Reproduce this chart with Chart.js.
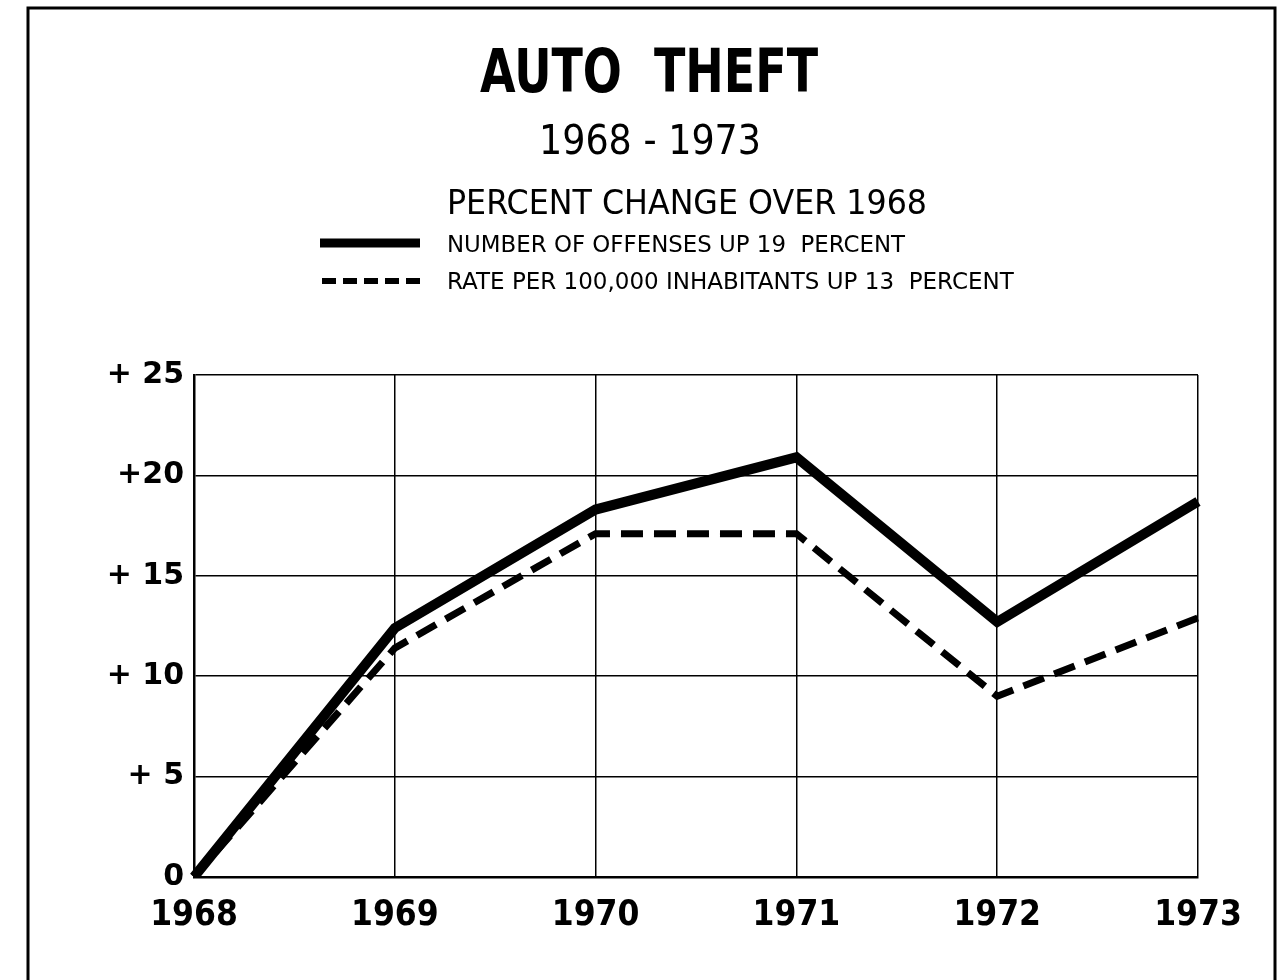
<!DOCTYPE html>
<html>
<head>
<meta charset="utf-8">
<script src="https://cdn.jsdelivr.net/npm/chart.js@4.4.1/dist/chart.umd.min.js"></script>
<style>
	html, body { margin: 0; padding: 0; background: #fff; }
	#wrap { width: 1280px; height: 980px; }
</style>
</head>
<body>
<div id="wrap"><canvas id="chart" width="1280" height="980"></canvas></div>
<script>

var years							 =	["1968", "1969", "1970", "1971", "1972", "1973"];
var offenses						 =	[0, 12.4, 18.3, 20.9, 12.7, 18.7];
var ratePer100k						 =	[0, 11.4, 17.1, 17.1, 9.0, 12.9];
var yTickLabels						 =	["0", "+ 5", "+ 10", "+ 15", "+20", "+ 25"];
var titleText						 =	"AUTO  THEFT";
var periodText						 =	"1968 - 1973";
var subtitleText					 =	"PERCENT CHANGE OVER 1968";
var offensesLabel					 =	"NUMBER OF OFFENSES UP 19  PERCENT";
var rateLabel						 =	"RATE PER 100,000 INHABITANTS UP 13  PERCENT";

/**
 * Draws the frame, the headings and the hand-made legend
 */
var headerPlugin					 =	{
	id								 :	"header",
	beforeDraw						 :	function (chart) {
		var ctx						 =	chart.ctx;
		ctx.save();
		ctx.fillStyle				 =	"#fff";
		ctx.fillRect(0, 0, chart.width, chart.height);
		ctx.strokeStyle				 =	"#000";
		ctx.lineWidth				 =	3;
		ctx.strokeRect(28, 8, 1247, 990);
		ctx.restore();
	},
	afterDraw						 :	function (chart) {
		var ctx						 =	chart.ctx;
		ctx.save();
		ctx.fillStyle				 =	"#000";
		ctx.textAlign				 =	"center";
		ctx.textBaseline			 =	"alphabetic";

		ctx.font					 =	"bold 60px 'DejaVu Sans'";
		ctx.fillText(titleText, 649, 92, 338);

		ctx.font					 =	"40px 'DejaVu Sans'";
		ctx.fillText(periodText, 650, 154, 222);

		ctx.font					 =	"33px 'DejaVu Sans'";
		ctx.fillText(subtitleText, 687, 214, 480);

		ctx.textAlign				 =	"left";
		ctx.font					 =	"23px 'DejaVu Sans'";
		ctx.fillText(offensesLabel, 447, 252, 458);
		ctx.fillText(rateLabel, 447, 289, 570);

		// legend swatches
		ctx.strokeStyle				 =	"#000";
		ctx.lineWidth				 =	9;
		ctx.beginPath();
		ctx.moveTo(320, 243);
		ctx.lineTo(420, 243);
		ctx.stroke();

		ctx.lineWidth				 =	6;
		ctx.setLineDash([14, 7]);
		ctx.beginPath();
		ctx.moveTo(322, 281);
		ctx.lineTo(420, 281);
		ctx.stroke();
		ctx.restore();
	}
};

var config							 =	{
	type							 :	"line",
	data							 :	{
		labels						 :	years,
		datasets					 :	[
			{
				label				 :	offensesLabel,
				data				 :	offenses,
				borderColor			 :	"#000",
				borderWidth			 :	10,
				pointRadius			 :	0,
				tension				 :	0,
				borderJoinStyle		 :	"miter",
			},
			{
				label				 :	rateLabel,
				data				 :	ratePer100k,
				borderColor			 :	"#000",
				borderWidth			 :	7,
				borderDash			 :	[22, 11],
				pointRadius			 :	0,
				tension				 :	0,
			},
		],
	},
	options							 :	{
		responsive					 :	false,
		animation					 :	false,
		layout						 :	{
			padding					 :	{ left: 0, top: 375, right: 82, bottom: 0 }
		},
		plugins						 :	{
			legend					 :	{ display: false },
			tooltip					 :	{ enabled: false },
		},
		scales						 :	{
			x						 :	{
				afterFit			 :	function (scale) { scale.height = 103; },
				grid				 :	{ color: "#000", lineWidth: 1.5, drawTicks: false },
				border				 :	{ color: "#000", width: 2.5 },
				ticks				 :	{
					color			 :	"#000",
					padding			 :	18,
					maxRotation		 :	0,
					font			 :	{ family: "'DejaVu Sans Condensed', 'Liberation Sans'", weight: "bold", size: 35 },
				},
			},
			y						 :	{
				min					 :	0,
				max					 :	25,
				afterFit			 :	function (scale) { scale.width = 194; },
				grid				 :	{ color: "#000", lineWidth: 1.5, drawTicks: false },
				border				 :	{ color: "#000", width: 2.5 },
				ticks				 :	{
					stepSize		 :	5,
					color			 :	"#000",
					padding			 :	10,
					font			 :	{ family: "'DejaVu Sans'", weight: "bold", size: 30 },
					callback		 :	function (value, index) { return yTickLabels[index]; },
				},
			},
		},
	},
	plugins							 :	[headerPlugin],
};

new Chart(document.getElementById("chart"), config);

</script>
</body>
</html>
